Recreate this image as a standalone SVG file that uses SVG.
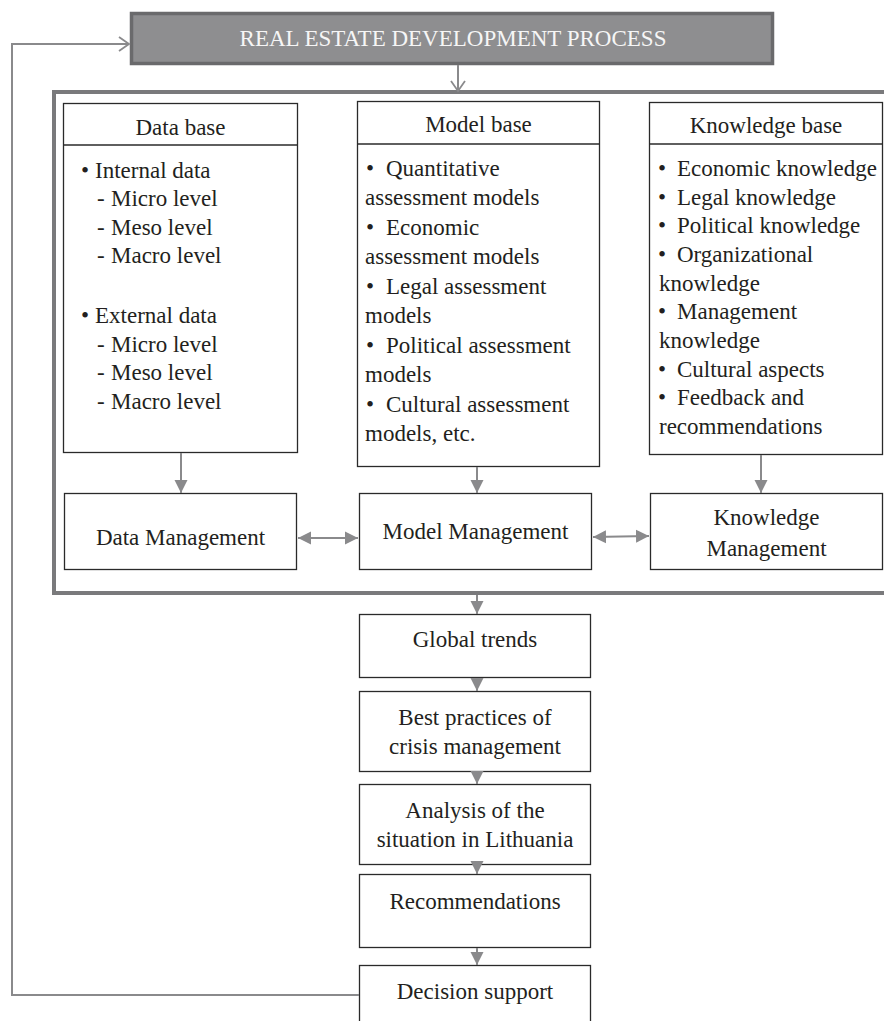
<svg xmlns="http://www.w3.org/2000/svg" width="884" height="1021" viewBox="0 0 884 1021">
<style>
.t{font-family:"Liberation Serif","Times New Roman",serif;font-size:23px;fill:#231f20}
.c{text-anchor:middle}
.box{fill:#fff;stroke:#2a2a2a;stroke-width:1.3}
.con{stroke:#8a8a8c;stroke-width:2;fill:none}
.title{font-family:"Liberation Serif","Times New Roman",serif;font-size:23px;fill:#f6f6f6;text-anchor:middle}
</style>
<defs>
<marker id="tri" viewBox="0 0 10 10" refX="10" refY="5" markerUnits="userSpaceOnUse" markerWidth="13" markerHeight="14" orient="auto-start-reverse">
<path d="M0,0 L10,5 L0,10 z" fill="#8a8a8c"/>
</marker>
<marker id="open" viewBox="0 0 12 16" refX="11" refY="8" markerUnits="userSpaceOnUse" markerWidth="13" markerHeight="16" orient="auto">
<path d="M1,1 L11,8 L1,15" fill="none" stroke="#8a8a8c" stroke-width="1.8"/>
</marker>
</defs>
<rect x="0" y="0" width="884" height="1021" fill="#fff"/>

<g id="frame">
<rect x="54" y="92" width="840" height="501" fill="none" stroke="#7a7a7c" stroke-width="4"/>
</g>

<g id="top">
<rect x="131.5" y="13.5" width="641" height="50" fill="#8e8e90" stroke="#6a6a6c" stroke-width="3.5"/>
<text class="title" x="453" y="46">REAL ESTATE DEVELOPMENT PROCESS</text>
</g>

<g id="database">
<rect class="box" x="63.5" y="103.5" width="234" height="349"/>
<line x1="63.5" y1="145" x2="297.5" y2="145" stroke="#2a2a2a" stroke-width="1.3"/>
<text class="t c" x="180.5" y="135">Data base</text>
<text class="t"><tspan x="81" y="178">•</tspan><tspan x="95" y="178">Internal data</tspan>
<tspan x="97" y="206">-</tspan><tspan x="111" y="206">Micro level</tspan>
<tspan x="97" y="235">-</tspan><tspan x="111" y="235">Meso level</tspan>
<tspan x="97" y="263">-</tspan><tspan x="111" y="263">Macro level</tspan>
<tspan x="81" y="323">•</tspan><tspan x="95" y="323">External data</tspan>
<tspan x="97" y="352">-</tspan><tspan x="111" y="352">Micro level</tspan>
<tspan x="97" y="380">-</tspan><tspan x="111" y="380">Meso level</tspan>
<tspan x="97" y="409">-</tspan><tspan x="111" y="409">Macro level</tspan></text>
</g>

<g id="modelbase">
<rect class="box" x="357.5" y="101.5" width="242" height="365"/>
<line x1="357.5" y1="144" x2="599.5" y2="144" stroke="#2a2a2a" stroke-width="1.3"/>
<text class="t c" x="478.5" y="132">Model base</text>
<text class="t"><tspan x="366" y="176">•</tspan><tspan x="386" y="176">Quantitative</tspan>
<tspan x="365" y="205">assessment models</tspan>
<tspan x="366" y="235">•</tspan><tspan x="386" y="235">Economic</tspan>
<tspan x="365" y="264">assessment models</tspan>
<tspan x="366" y="294">•</tspan><tspan x="386" y="294">Legal assessment</tspan>
<tspan x="365" y="323">models</tspan>
<tspan x="366" y="353">•</tspan><tspan x="386" y="353">Political assessment</tspan>
<tspan x="365" y="382">models</tspan>
<tspan x="366" y="412">•</tspan><tspan x="386" y="412">Cultural assessment</tspan>
<tspan x="365" y="441">models, etc.</tspan></text>
</g>

<g id="knowledgebase">
<rect class="box" x="649.5" y="102.5" width="233" height="352"/>
<line x1="649.5" y1="144" x2="882.5" y2="144" stroke="#2a2a2a" stroke-width="1.3"/>
<text class="t c" x="766" y="133">Knowledge base</text>
<text class="t"><tspan x="658" y="176">•</tspan><tspan x="677" y="176">Economic knowledge</tspan>
<tspan x="658" y="205">•</tspan><tspan x="677" y="205">Legal knowledge</tspan>
<tspan x="658" y="233">•</tspan><tspan x="677" y="233">Political knowledge</tspan>
<tspan x="658" y="262">•</tspan><tspan x="677" y="262">Organizational</tspan>
<tspan x="659" y="291">knowledge</tspan>
<tspan x="658" y="319">•</tspan><tspan x="677" y="319">Management</tspan>
<tspan x="659" y="348">knowledge</tspan>
<tspan x="658" y="377">•</tspan><tspan x="677" y="377">Cultural aspects</tspan>
<tspan x="658" y="405">•</tspan><tspan x="677" y="405">Feedback and</tspan>
<tspan x="659" y="434">recommendations</tspan></text>
</g>

<g id="datamgmt">
<rect class="box" x="64.5" y="493.5" width="232" height="76"/>
<text class="t c" x="180.5" y="545">Data Management</text>
</g>
<g id="modelmgmt">
<rect class="box" x="359.5" y="493.5" width="232" height="76"/>
<text class="t c" x="475.5" y="539">Model Management</text>
</g>
<g id="knowledgemgmt">
<rect class="box" x="650.5" y="493.5" width="232" height="76"/>
<text class="t c" x="766.5" y="525">Knowledge</text>
<text class="t c" x="766.5" y="556">Management</text>
</g>

<g id="globaltrends">
<rect class="box" x="359.5" y="614.5" width="231" height="63"/>
<text class="t c" x="475" y="647">Global trends</text>
</g>
<g id="bestpractices">
<rect class="box" x="359.5" y="691.5" width="231" height="80"/>
<text class="t c" x="475" y="725">Best practices of</text>
<text class="t c" x="475" y="754">crisis management</text>
</g>
<g id="analysis">
<rect class="box" x="359.5" y="784.5" width="231" height="80"/>
<text class="t c" x="475" y="818">Analysis of the</text>
<text class="t c" x="475" y="847">situation in Lithuania</text>
</g>
<g id="recommendations">
<rect class="box" x="359.5" y="874.5" width="231" height="73"/>
<text class="t c" x="475" y="909">Recommendations</text>
</g>
<g id="decision">
<rect class="box" x="359.5" y="965.5" width="231" height="70"/>
<text class="t c" x="475" y="999">Decision support</text>
</g>

<g id="connectors">
<polyline class="con" points="359,995 12,995 12,44 129,44" marker-end="url(#open)"/>
<line class="con" x1="458" y1="65" x2="458" y2="91" marker-end="url(#open)"/>
<line class="con" x1="181" y1="453" x2="181" y2="493" marker-end="url(#tri)"/>
<line class="con" x1="477" y1="467" x2="477" y2="493" marker-end="url(#tri)"/>
<line class="con" x1="761" y1="455" x2="761" y2="493" marker-end="url(#tri)"/>
<line class="con" x1="298" y1="538" x2="358" y2="538" marker-start="url(#tri)" marker-end="url(#tri)"/>
<line class="con" x1="593" y1="537" x2="649" y2="536" marker-start="url(#tri)" marker-end="url(#tri)"/>
<line class="con" x1="477" y1="595" x2="477" y2="614" marker-end="url(#tri)"/>
<line class="con" x1="477" y1="678" x2="477" y2="691" marker-end="url(#tri)"/>
<line class="con" x1="477" y1="772" x2="477" y2="784" marker-end="url(#tri)"/>
<line class="con" x1="477" y1="865" x2="477" y2="874" marker-end="url(#tri)"/>
<line class="con" x1="477" y1="948" x2="477" y2="965" marker-end="url(#tri)"/>
</g>
</svg>
